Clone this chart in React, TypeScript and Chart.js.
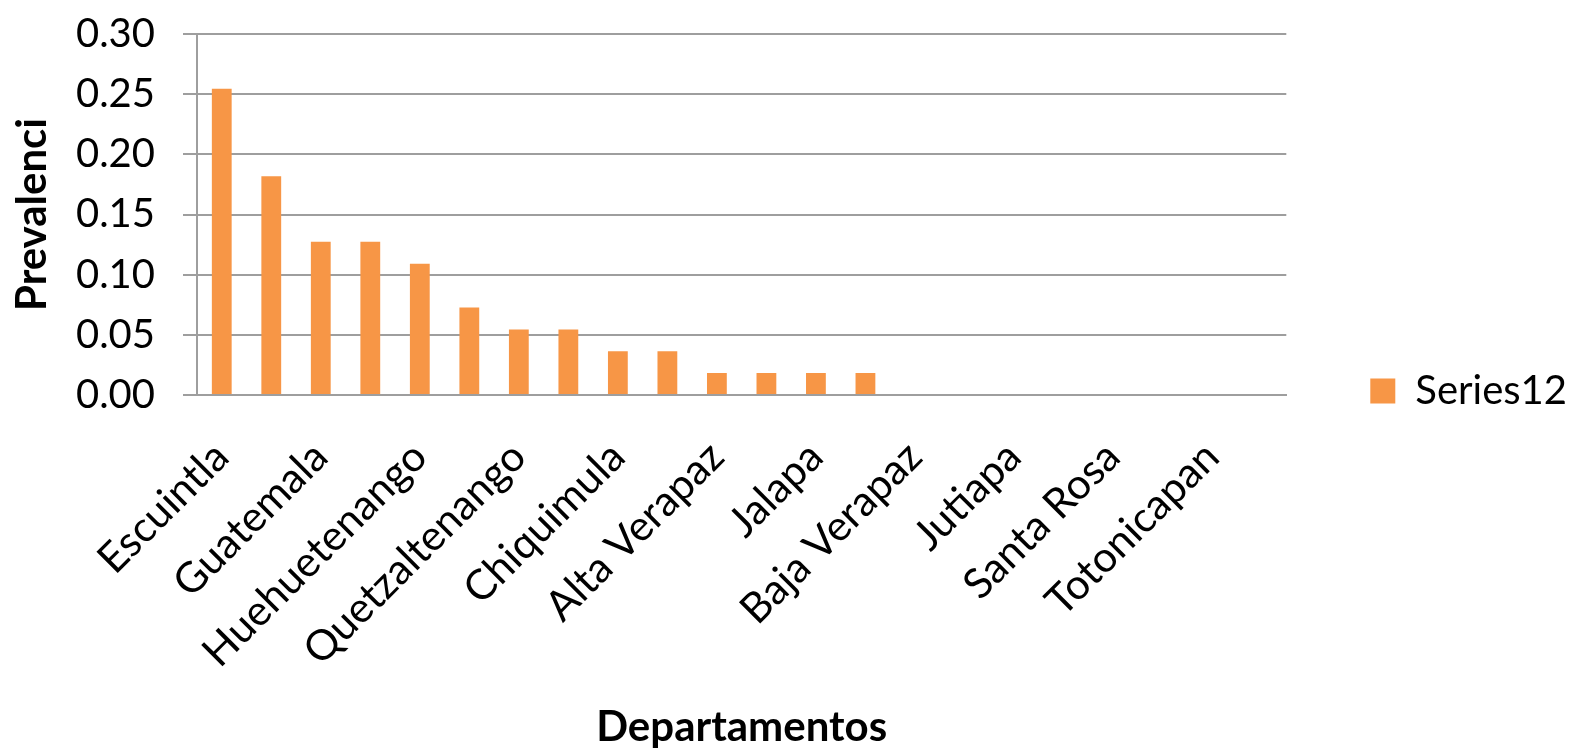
import { useEffect, useRef } from 'react';
import { Chart, registerables } from 'chart.js';

Chart.register(...registerables);

// Department names; the axis only prints every second one.
const categories = [
  'Escuintla', '', 'Guatemala', '', 'Huehuetenango', '', 'Quetzaltenango', '',
  'Chiquimula', '', 'Alta Verapaz', '', 'Jalapa', '', 'Baja Verapaz', '',
  'Jutiapa', '', 'Santa Rosa', '', 'Totonicapan', '',
];

// Prevalence per department (Series12)
const prevalencia = [
  0.2545, 0.1818, 0.1273, 0.1273, 0.1091, 0.0727, 0.0545, 0.0545,
  0.0364, 0.0364, 0.0182, 0.0182, 0.0182, 0.0182, 0, 0,
  0, 0, 0, 0, 0, 0,
];

const yTicks = [0, 0.05, 0.1, 0.15, 0.2, 0.25, 0.3];

const seriesName = 'Series12';
const xTitle = 'Departamentos';
const yTitle = 'Prevalenci';

const FONT = 'Lato, "Open Sans", "DejaVu Sans", sans-serif';
const GRID = '#9e9e9e';
const BAR = '#f79646';

export default function App() {
  const canvasRef = useRef<HTMLCanvasElement | null>(null);

  useEffect(() => {
    const canvas = canvasRef.current;
    if (!canvas) return;
    const chart = new Chart(canvas, {
      type: 'bar',
      data: {
        labels: categories,
        datasets: [
          {
            label: seriesName,
            data: prevalencia,
            backgroundColor: BAR,
            borderWidth: 0,
            barPercentage: 0.4,
            categoryPercentage: 1.0,
          },
        ],
      },
      options: {
        animation: false,
        responsive: false,
        devicePixelRatio: 1,
        layout: { padding: { top: 34, right: -5, bottom: 0, left: 0 } },
        plugins: {
          legend: {
            position: 'right',
            labels: {
              boxWidth: 25,
              boxHeight: 25,
              padding: 84,
              color: '#000',
              font: { family: FONT, size: 40 },
            },
          },
          tooltip: { enabled: false },
        },
        scales: {
          x: {
            grid: { display: false, drawTicks: false },
            border: { display: true, color: GRID, width: 2 },
            ticks: {
              autoSkip: false,
              minRotation: 45,
              maxRotation: 45,
              padding: 37,
              color: '#000',
              font: { family: FONT, size: 42 },
            },
            title: {
              display: true,
              text: xTitle,
              color: '#000',
              font: { family: FONT, size: 42, weight: 'bold', lineHeight: 1 },
              padding: { top: 0, bottom: 0 },
            },
            afterFit: (scale: any) => {
              scale.height = 353;
            },
          },
          y: {
            min: 0,
            max: 0.3,
            grid: { color: GRID, lineWidth: 2, tickLength: 14, drawTicks: true },
            border: { display: true, color: GRID, width: 2 },
            afterBuildTicks: (scale: any) => {
              scale.ticks = yTicks.map((v) => ({ value: v }));
            },
            ticks: {
              padding: 28,
              color: '#000',
              font: { family: FONT, size: 40 },
              callback: (v: any) => Number(v).toFixed(2),
            },
            title: {
              display: true,
              text: yTitle,
              color: '#000',
              font: { family: FONT, size: 42, weight: 'bold', lineHeight: 1.2 },
              padding: { top: 7, bottom: 0 },
            },
            afterFit: (scale: any) => {
              scale.width = 197;
              scale.paddingTop = 0;
              scale.paddingBottom = 0;
            },
          },
        },
      },
    });
    return () => chart.destroy();
  }, []);

  return (
    <div style={{ position: 'fixed', left: 0, top: 0, width: 1572, height: 748, background: '#fff' }}>
      <canvas ref={canvasRef} width={1572} height={748} style={{ display: 'block' }} />
    </div>
  );
}
